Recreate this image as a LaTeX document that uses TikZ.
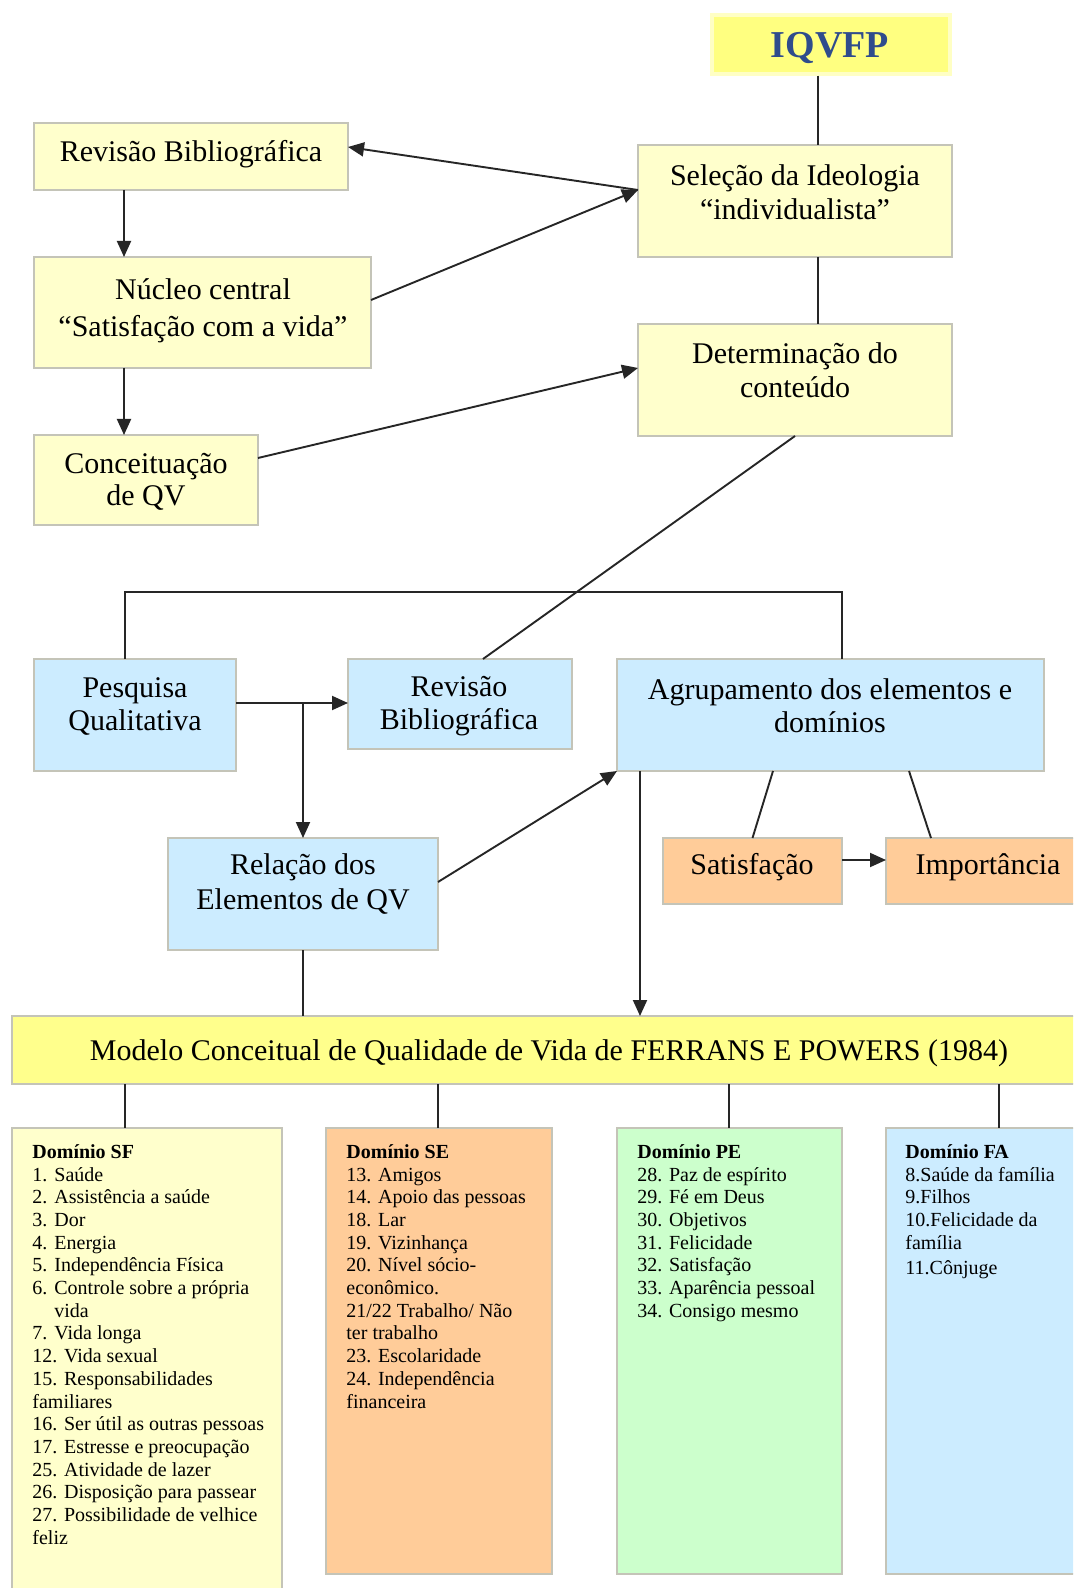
\documentclass[tikz,border=0pt]{standalone}
\usepackage{fontspec}
\setmainfont{Liberation Serif}
\usetikzlibrary{arrows.meta}
\definecolor{paleyellow}{HTML}{FFFFCC}
\definecolor{brightyellow}{HTML}{FFFF8C}
\definecolor{titleyellow}{HTML}{FFFF80}
\definecolor{titleglow}{HTML}{FFFFC4}
\definecolor{paleblue}{HTML}{CCECFF}
\definecolor{tan}{HTML}{FFCC99}
\definecolor{palegreen}{HTML}{CCFFCC}
\definecolor{boxline}{HTML}{C4C4B8}
\definecolor{titleblue}{HTML}{2F4C8C}
\begin{document}
\begin{tikzpicture}[x=0.5pt,y=-0.5pt,
  box/.style={draw=boxline, line width=0.6pt, inner sep=0pt, outer sep=0pt},
  lbl/.style={align=center, inner sep=0pt, font=\fontsize{15}{17}\selectfont},
  list/.style={anchor=north west, align=left, inner sep=0pt, font=\fontsize{10}{11.35}\selectfont},
  link/.style={line width=0.95pt, draw=black!85},
  arr/.style={link, -{Triangle[length=8pt,width=7pt]}}]

\fill[white] (0,0) rectangle (1073,1588);
\useasboundingbox (0,0) rectangle (1073,1588);
\clip (0,0) rectangle (1073,1588);

% ---------- upper flow ----------
\node[draw=titleglow, line width=1.6pt, fill=titleyellow, inner sep=0pt,
      minimum width=119pt, minimum height=29.5pt] (iq) at (831,44.5) {};
\node[inner sep=0pt, font=\fontsize{19}{21}\selectfont\bfseries, text=titleblue] (iq-t) at (830,48) {IQVFP};

\node[box, fill=paleyellow, minimum width=157pt, minimum height=56pt] (sel) at (795,201) {};
\node[lbl] (sel-t) at (795,192) {Seleção da Ideologia\\“individualista”};

\node[box, fill=paleyellow, minimum width=157pt, minimum height=56pt] (det) at (795,380) {};
\node[lbl] (det-t) at (795,370) {Determinação do\\conteúdo};

\node[box, fill=paleyellow, minimum width=157pt, minimum height=33.5pt] (rb1) at (191,156.5) {};
\node[lbl] (rb1-t) at (191,154) {Revisão Bibliográfica};

\node[box, fill=paleyellow, minimum width=168.5pt, minimum height=55.5pt] (nuc) at (202.5,312.5) {};
\node[lbl, font=\fontsize{15}{18.5}\selectfont] (nuc-t) at (203,311) {Núcleo central\\“Satisfação com a vida”};

\node[box, fill=paleyellow, minimum width=112pt, minimum height=45pt] (con) at (146,480) {};
\node[lbl, font=\fontsize{15}{16}\selectfont] (con-t) at (146,482) {Conceituação\\de QV};

% ---------- middle flow ----------
\node[box, fill=paleblue, minimum width=101pt, minimum height=56pt] (pq) at (135,715) {};
\node[lbl, font=\fontsize{15}{16.5}\selectfont] (pq-t) at (135,706) {Pesquisa\\Qualitativa};

\node[box, fill=paleblue, minimum width=112pt, minimum height=45pt] (rb2) at (460,704) {};
\node[lbl, font=\fontsize{15}{16.5}\selectfont] (rb2-t) at (459,706) {Revisão\\Bibliográfica};

\node[box, fill=paleblue, minimum width=213.5pt, minimum height=56pt] (agr) at (830.5,715) {};
\node[lbl, font=\fontsize{15}{16.5}\selectfont] (agr-t) at (830,706) {Agrupamento dos elementos e\\domínios};

\node[box, fill=paleblue, minimum width=135pt, minimum height=56pt] (rel) at (303,894) {};
\node[lbl, font=\fontsize{15}{17.5}\selectfont] (rel-t) at (303,884) {Relação dos\\Elementos de QV};

\node[box, fill=tan, minimum width=89.5pt, minimum height=33pt] (sat) at (752.5,871) {};
\node[lbl] (sat-t) at (752,867) {Satisfação};

\node[box, fill=tan, minimum width=102pt, minimum height=33pt] (imp) at (988,871) {};
\node[lbl] (imp-t) at (988,867) {Importância};

% ---------- model ----------
\node[box, fill=brightyellow, minimum width=539pt, minimum height=34pt] (mod) at (551,1050) {};
\node[lbl] (mod-t) at (549,1053) {Modelo Conceitual de Qualidade de Vida de FERRANS E POWERS (1984)};

% ---------- domains ----------
\node[box, fill=paleyellow, minimum width=135pt, minimum height=236pt] (sf) at (147,1364) {};
\node[box, fill=tan, minimum width=113pt, minimum height=223pt] (se) at (439,1351) {};
\node[box, fill=palegreen, minimum width=112.5pt, minimum height=223pt] (pe) at (729.5,1351) {};
\node[box, fill=paleblue, minimum width=102pt, minimum height=223pt] (fa) at (988,1351) {};

\node[list] (sf-t) at (32,1144) {\textbf{Domínio SF}\\
\makebox[11pt][l]{1.}Saúde\\
\makebox[11pt][l]{2.}Assistência a saúde\\
\makebox[11pt][l]{3.}Dor\\
\makebox[11pt][l]{4.}Energia\\
\makebox[11pt][l]{5.}Independência Física\\
\makebox[11pt][l]{6.}Controle sobre a própria\\
\hspace*{11pt}vida\\
\makebox[11pt][l]{7.}Vida longa\\
12. Vida sexual\\
15. Responsabilidades\\
familiares\\
16. Ser útil as outras pessoas\\
17. Estresse e preocupação\\
25. Atividade de lazer\\
26. Disposição para passear\\
27. Possibilidade de velhice\\
feliz};

\node[list] (se-t) at (346,1144) {\textbf{Domínio SE}\\
13. Amigos\\
14. Apoio das pessoas\\
18. Lar\\
19. Vizinhança\\
20. Nível sócio-\\
econômico.\\
21/22 Trabalho/ Não\\
ter trabalho\\
23. Escolaridade\\
24. Independência\\
financeira};

\node[list] (pe-t) at (637,1144) {\textbf{Domínio PE}\\
28. Paz de espírito\\
29. Fé em Deus\\
30. Objetivos\\
31. Felicidade\\
32. Satisfação\\
33. Aparência pessoal\\
34. Consigo mesmo};

\node[list] (fa-t) at (905,1144) {\textbf{Domínio FA}\\
8.Saúde da família\\
9.Filhos\\
10.Felicidade da\\
família\\[1.2pt]
11.Cônjuge};

% ---------- connectors ----------
\coordinate (cx1) at (818,0);
\coordinate (cx2) at (124,0);
\coordinate (b1) at (125,592);
\coordinate (b2) at (842,592);

\draw[link] (iq.south -| cx1) -- (sel.north -| cx1);
\draw[link] (sel.south -| cx1) -- (det.north -| cx1);

\draw[arr] (sel.west |- 0,190) -- (rb1.east |- 0,147);
\draw[arr] (nuc.east |- 0,300) -- (sel.west |- 0,190);
\draw[arr] (rb1.south -| cx2) -- (nuc.north -| cx2);
\draw[arr] (nuc.south -| cx2) -- (con.north -| cx2);
\draw[arr] (con.east |- 0,458) -- (det.west |- 0,368);

\draw[link] (det.south) -- (rb2.north -| 483,0);

\draw[link] (pq.north -| b1) -- (b1) -- (b2) -- (agr.north -| b2);
\draw[arr] (pq.east |- 0,703) -- (rb2.west |- 0,703);
\draw[arr] (rel.north |- 0,703) -- (rel.north);
\draw[arr] (rel.east |- 0,882) -- (agr.south west);
\draw[arr] (agr.south -| 640,0) -- (mod.north -| 640,0);
\draw[link] (agr.south -| 773,0) -- (sat.north);
\draw[link] (agr.south -| 909,0) -- (imp.north -| 931,0);
\draw[arr] (sat.east |- 0,860) -- (imp.west |- 0,860);
\draw[link] (rel.south) -- (mod.north -| rel.south);

\draw[link] (mod.south -| 125,0) -- (sf.north -| 125,0);
\draw[link] (mod.south -| 438,0) -- (se.north -| 438,0);
\draw[link] (mod.south -| 729,0) -- (pe.north -| 729,0);
\draw[link] (mod.south -| 999,0) -- (fa.north -| 999,0);
\end{tikzpicture}
\end{document}
